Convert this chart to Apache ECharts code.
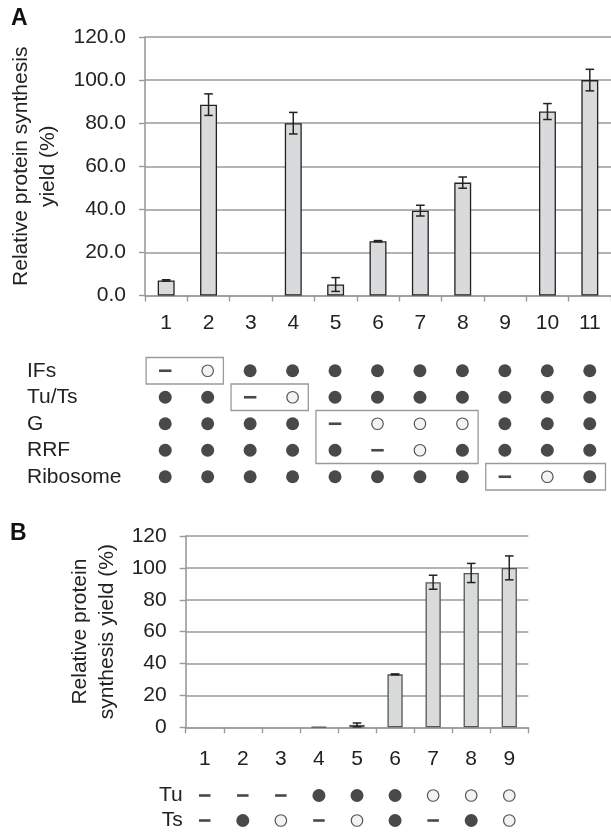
<!DOCTYPE html>
<html><head><meta charset="utf-8">
<script src="https://cdn.jsdelivr.net/npm/echarts@6/dist/echarts.min.js"></script>
<style>html,body{margin:0;padding:0;background:#fff}#c{width:611px;height:833px}</style>
</head><body><div id="c"></div>
<script>
// ---------- Panel A data ----------
const catsA = ['1','2','3','4','5','6','7','8','9','10','11'];
const valsA = [7.0, 88.6, 0, 80.0, 5.1, 25.2, 39.4, 52.4, 0, 85.4, 100.0];
const errA  = [0.3, 5.0, 0, 5.0, 3.2, 0.3, 2.5, 2.6, 0, 3.7, 5.0];
const yMaxA = 120, yStepA = 20;
const rowsA = ['IFs','Tu/Ts','G','RRF','Ribosome'];
// F = filled circle, O = open circle, - = absent (dash)
const rowIFs      = ['-','O','F','F','F','F','F','F','F','F','F'];
const rowTuTs     = ['F','F','-','O','F','F','F','F','F','F','F'];
const rowG        = ['F','F','F','F','-','O','O','O','F','F','F'];
const rowRRF      = ['F','F','F','F','F','-','O','F','F','F','F'];
const rowRibosome = ['F','F','F','F','F','F','F','F','-','O','F'];
// boxes: [colStart, colEnd, rowStart, rowEnd]
const boxesA = [[0,1,0,0],[2,3,1,1],[4,7,2,3],[8,10,4,4]];

// ---------- Panel B data ----------
const catsB = ['1','2','3','4','5','6','7','8','9'];
const valsB = [0, 0, 0, 0.2, 1.5, 33.2, 91.0, 96.8, 100.0];
const errB  = [0, 0, 0, 0, 1.2, 0.3, 4.4, 6.0, 7.5];
const yMaxB = 120, yStepB = 20;
const rowsB = ['Tu','Ts'];
const rowTu = ['-','-','-','F','F','F','O','O','O'];
const rowTs = ['-','F','O','-','O','F','-','F','O'];

const FONT = "'Liberation Sans', Arial, Helvetica, sans-serif";
const TXT = '#222';
const GRID = '#9a9a9a';

function errRender(params, api) {
  const x = api.value(0), v = api.value(1), e = api.value(2);
  if (!(e > 0)) return;
  const hi = api.coord([x, v + e]), lo = api.coord([x, v - e < 0 ? 0 : v - e]);
  const cap = 4.3;
  const st = {stroke: '#222', lineWidth: 1.5};
  return {type: 'group', children: [
    {type: 'line', shape: {x1: hi[0], y1: hi[1], x2: lo[0], y2: lo[1]}, style: st},
    {type: 'line', shape: {x1: hi[0]-cap, y1: hi[1], x2: hi[0]+cap, y2: hi[1]}, style: st},
    {type: 'line', shape: {x1: lo[0]-cap, y1: lo[1], x2: lo[0]+cap, y2: lo[1]}, style: st}
  ]};
}
function boxRender(params, api) {
  const c0 = api.value(0), c1 = api.value(1), r0 = api.value(2), r1 = api.value(3);
  const bw = api.size([1, 1]);
  const p0 = api.coord([c0, r0]), p1 = api.coord([c1, r1]);
  const x0 = p0[0] - 0.45*bw[0], x1 = p1[0] + 0.37*bw[0];
  const y0 = p0[1] - 0.5*bw[1], y1 = p1[1] + 0.5*bw[1];
  return {type: 'rect', shape: {x: x0, y: y0, width: x1-x0, height: y1-y0},
          style: {fill: 'none', stroke: GRID, lineWidth: 1.3}};
}
function tableSeries(rowArrays, xi, yi, dot, dashW) {
  const filled = [], open = [], dash = [];
  rowArrays.forEach((arr, r) => arr.forEach((c, i) => {
    if (c === 'F') filled.push([i, r]);
    else if (c === 'O') open.push([i, r]);
    else dash.push([i, r]);
  }));
  const base = {type: 'scatter', xAxisIndex: xi, yAxisIndex: yi, silent: true};
  return [
    Object.assign({}, base, {data: filled, symbol: 'circle', symbolSize: dot, itemStyle: {color: '#1c1c1c'}}),
    Object.assign({}, base, {data: open, symbol: 'circle', symbolSize: dot - 1.5, itemStyle: {color: '#eef0f2', borderColor: '#2a2a2a', borderWidth: 1.2}}),
    Object.assign({}, base, {data: dash, symbol: 'rect', symbolSize: [dashW, 2.6], itemStyle: {color: '#1c1c1c'}})
  ];
}
function barData(vals) {
  // zero-height bars draw nothing (no border line on the axis)
  return vals.map(v => v > 0 ? v : {value: v, itemStyle: {borderWidth: 0, color: 'rgba(0,0,0,0)'}});
}
function valueAxis(gi, max, step, fmt, name, gap) {
  return {type: 'value', gridIndex: gi, min: 0, max: max, interval: step,
    name: name, nameLocation: 'middle', nameGap: gap,
    nameTextStyle: {fontFamily: FONT, fontSize: 21, lineHeight: 27, color: TXT},
    axisLine: {show: true, lineStyle: {color: GRID, width: 1.6}},
    axisTick: {show: true, length: 6, lineStyle: {color: GRID, width: 1.4}},
    axisLabel: {fontFamily: FONT, fontSize: 21, color: TXT, margin: 19, formatter: fmt},
    splitLine: {show: true, lineStyle: {color: GRID, width: 1.6}}};
}
function catAxis(gi, cats, margin) {
  return {type: 'category', gridIndex: gi, data: cats,
    axisLine: {show: true, lineStyle: {color: GRID, width: 1.6}},
    axisTick: {show: true, length: 6, lineStyle: {color: GRID, width: 1.4}},
    axisLabel: {fontFamily: FONT, fontSize: 21, color: TXT, margin: margin, interval: 0}};
}
function hiddenCat(gi, cats) {
  return {type: 'category', gridIndex: gi, data: cats, show: false};
}
function rowAxis(gi, rows, align, margin) {
  return {type: 'category', gridIndex: gi, data: rows, inverse: true,
    axisLine: {show: false}, axisTick: {show: false}, splitLine: {show: false},
    axisLabel: {fontFamily: FONT, fontSize: 21, color: TXT, align: align, margin: margin, interval: 0, hideOverlap: false}};
}

const option = {
  animation: false,
  backgroundColor: '#fff',
  grid: [
    {left: 144, top: 37, width: 472, height: 258.5},
    {left: 144, top: 357.5, width: 472, height: 132.5},
    {left: 185.7, top: 536, width: 342.6, height: 191.3},
    {left: 185.7, top: 783, width: 342.6, height: 54.6}
  ],
  xAxis: [
    catAxis(0, catsA, 17),
    hiddenCat(1, catsA),
    catAxis(2, catsB, 21),
    hiddenCat(3, catsB)
  ],
  yAxis: [
    valueAxis(0, yMaxA, yStepA, v => v.toFixed(1), 'Relative protein synthesis\nyield (%)', 83),
    rowAxis(1, rowsA, 'left', 117),
    valueAxis(2, yMaxB, yStepB, v => String(v), 'Relative protein\nsynthesis yield (%)', 65),
    rowAxis(3, rowsB, 'right', 3)
  ],
  graphic: [
    {type: 'text', x: 11, y: 18.5, style: {text: 'A', font: 'bold 23px ' + FONT, fill: '#111', verticalAlign: 'middle'}},
    {type: 'text', x: 10, y: 533.5, style: {text: 'B', font: 'bold 23px ' + FONT, fill: '#111', verticalAlign: 'middle'}}
  ],
  series: [
    {type: 'bar', xAxisIndex: 0, yAxisIndex: 0, data: barData(valsA), barWidth: '40%', silent: true,
     itemStyle: {color: '#d9dadc', borderColor: '#222', borderWidth: 1.3}},
    {type: 'custom', xAxisIndex: 0, yAxisIndex: 0, renderItem: errRender, encode: {x: 0, y: 1},
     data: valsA.map((v, i) => [i, v, errA[i]]), z: 5, silent: true},
    ...tableSeries([rowIFs, rowTuTs, rowG, rowRRF, rowRibosome], 1, 1, 13, 12.5),
    {type: 'custom', xAxisIndex: 1, yAxisIndex: 1, renderItem: boxRender, encode: {x: [0, 1], y: [2, 3]},
     data: boxesA, silent: true},
    {type: 'bar', xAxisIndex: 2, yAxisIndex: 2, data: barData(valsB), barWidth: '40%', silent: true,
     itemStyle: {color: '#d9dadc', borderColor: '#555', borderWidth: 1.3}},
    {type: 'custom', xAxisIndex: 2, yAxisIndex: 2, renderItem: errRender, encode: {x: 0, y: 1},
     data: valsB.map((v, i) => [i, v, errB[i]]), z: 5, silent: true},
    ...tableSeries([rowTu, rowTs], 3, 3, 13, 11.5)
  ]
};
const chart = echarts.init(document.getElementById('c'), null, {renderer: 'canvas'});
chart.setOption(option);
</script></body></html>
